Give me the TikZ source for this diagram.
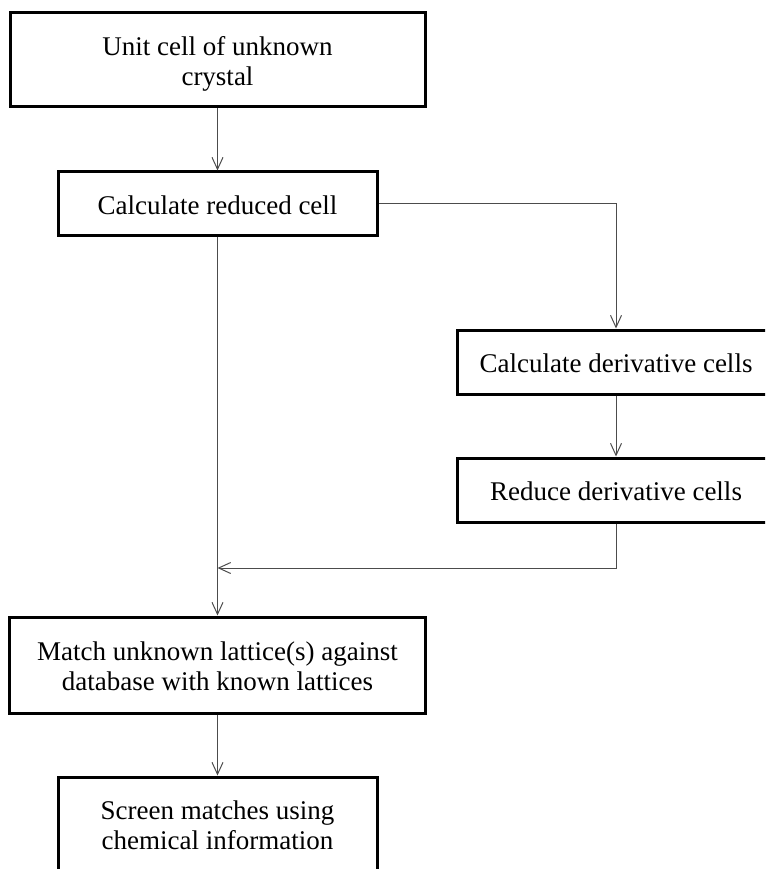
\documentclass[tikz,border=0pt]{standalone}
\usepackage{fontspec}
\setmainfont{Liberation Serif}
\usetikzlibrary{arrows.meta}
\begin{document}
\begin{tikzpicture}[x=1pt,y=-1pt,
		box/.style={draw,line width=3pt,inner sep=0pt,align=center,font=\fontsize{27}{30}\selectfont,
			execute at begin node=\rule{0pt}{30pt},execute at end node=\strut},
		link/.style={draw=black!70,line width=1pt,-{Straight Barb[length=12pt,width=11pt]}}]
		\path[use as bounding box,clip] (0,0) rectangle (765,869);
		\node[box,minimum width=415pt,minimum height=94pt] (unit) at (217.5,60) {\rule{0pt}{30pt}Unit cell of unknown\\crystal};
		\node[box,minimum width=319pt,minimum height=63pt] (reduced) at (217.5,203.5) {Calculate reduced cell};
		\node[box,minimum width=318pt,minimum height=64pt] (deriv) at (616,362) {Calculate derivative cells};
		\node[box,minimum width=318pt,minimum height=64pt] (reduce) at (616,490) {Reduce derivative cells};
		\node[box,minimum width=416pt,minimum height=96pt] (match) at (217.5,665) {\rule{0pt}{30pt}Match unknown lattice(s) against\\database with known lattices};
		\node[box,minimum width=319pt,minimum height=94pt] (screen) at (217.5,824) {\rule{0pt}{30pt}Screen matches using\\chemical information};
		\coordinate (join) at (217.5,568);
		\draw[link] (unit) -- (reduced);
		\draw[link] (reduced.east) -| (deriv.north);
		\draw[link] (deriv) -- (reduce);
		\draw[link] (reduced) -- (match);
		\draw[link] (reduce.south) |- (join);
		\draw[link] (match) -- (screen);
	\end{tikzpicture}
\end{document}
